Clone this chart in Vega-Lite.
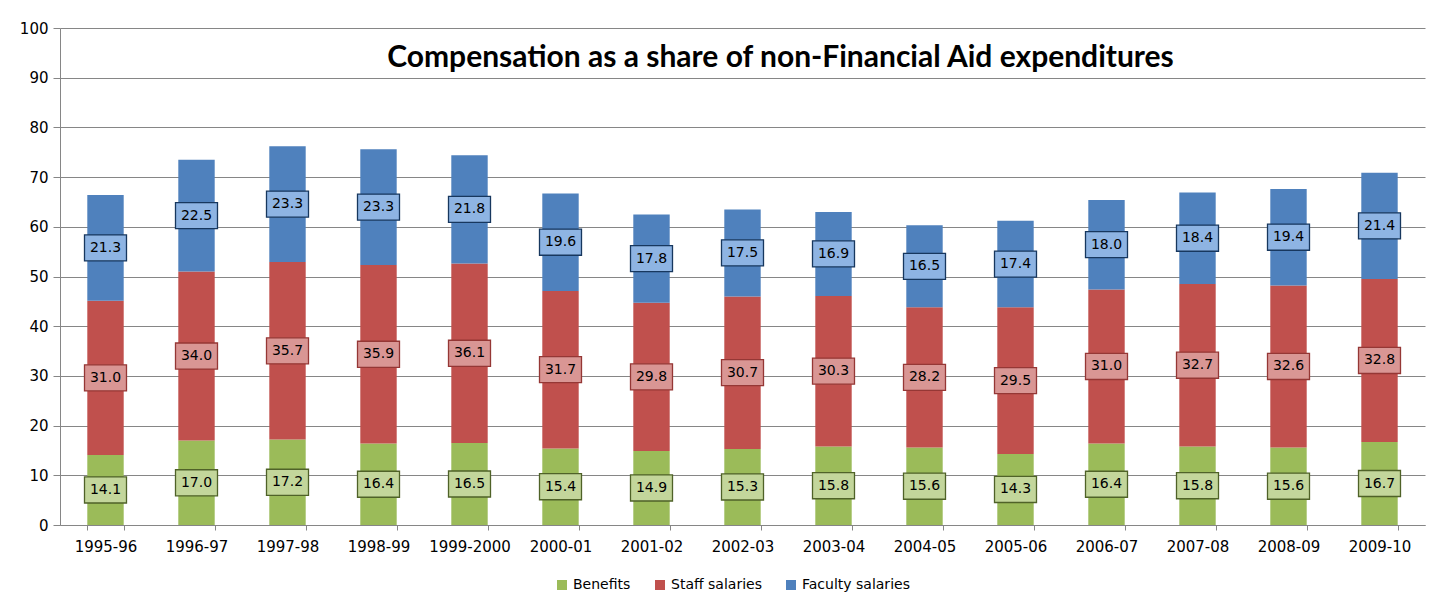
{
  "$schema": "https://vega.github.io/schema/vega-lite/v6.json",
  "width": 1365,
  "height": 497,
  "autosize": {"type": "none"},
  "padding": {"left": 60, "top": 28, "right": 27, "bottom": 82},
  "background": "white",
  "title": {
    "text": "Compensation as a share of non-Financial Aid expenditures",
    "font": "Lato",
    "fontSize": 30,
    "fontWeight": "bold",
    "color": "#000000",
    "anchor": "middle",
    "dx": 38,
    "offset": -52
  },
  "data": {
    "values": [
      {"year": "1995-96", "series": "Benefits", "k": 1, "value": 14.1},
      {"year": "1995-96", "series": "Staff salaries", "k": 2, "value": 31.0},
      {"year": "1995-96", "series": "Faculty salaries", "k": 3, "value": 21.3},
      {"year": "1996-97", "series": "Benefits", "k": 1, "value": 17.0},
      {"year": "1996-97", "series": "Staff salaries", "k": 2, "value": 34.0},
      {"year": "1996-97", "series": "Faculty salaries", "k": 3, "value": 22.5},
      {"year": "1997-98", "series": "Benefits", "k": 1, "value": 17.2},
      {"year": "1997-98", "series": "Staff salaries", "k": 2, "value": 35.7},
      {"year": "1997-98", "series": "Faculty salaries", "k": 3, "value": 23.3},
      {"year": "1998-99", "series": "Benefits", "k": 1, "value": 16.4},
      {"year": "1998-99", "series": "Staff salaries", "k": 2, "value": 35.9},
      {"year": "1998-99", "series": "Faculty salaries", "k": 3, "value": 23.3},
      {"year": "1999-2000", "series": "Benefits", "k": 1, "value": 16.5},
      {"year": "1999-2000", "series": "Staff salaries", "k": 2, "value": 36.1},
      {"year": "1999-2000", "series": "Faculty salaries", "k": 3, "value": 21.8},
      {"year": "2000-01", "series": "Benefits", "k": 1, "value": 15.4},
      {"year": "2000-01", "series": "Staff salaries", "k": 2, "value": 31.7},
      {"year": "2000-01", "series": "Faculty salaries", "k": 3, "value": 19.6},
      {"year": "2001-02", "series": "Benefits", "k": 1, "value": 14.9},
      {"year": "2001-02", "series": "Staff salaries", "k": 2, "value": 29.8},
      {"year": "2001-02", "series": "Faculty salaries", "k": 3, "value": 17.8},
      {"year": "2002-03", "series": "Benefits", "k": 1, "value": 15.3},
      {"year": "2002-03", "series": "Staff salaries", "k": 2, "value": 30.7},
      {"year": "2002-03", "series": "Faculty salaries", "k": 3, "value": 17.5},
      {"year": "2003-04", "series": "Benefits", "k": 1, "value": 15.8},
      {"year": "2003-04", "series": "Staff salaries", "k": 2, "value": 30.3},
      {"year": "2003-04", "series": "Faculty salaries", "k": 3, "value": 16.9},
      {"year": "2004-05", "series": "Benefits", "k": 1, "value": 15.6},
      {"year": "2004-05", "series": "Staff salaries", "k": 2, "value": 28.2},
      {"year": "2004-05", "series": "Faculty salaries", "k": 3, "value": 16.5},
      {"year": "2005-06", "series": "Benefits", "k": 1, "value": 14.3},
      {"year": "2005-06", "series": "Staff salaries", "k": 2, "value": 29.5},
      {"year": "2005-06", "series": "Faculty salaries", "k": 3, "value": 17.4},
      {"year": "2006-07", "series": "Benefits", "k": 1, "value": 16.4},
      {"year": "2006-07", "series": "Staff salaries", "k": 2, "value": 31.0},
      {"year": "2006-07", "series": "Faculty salaries", "k": 3, "value": 18.0},
      {"year": "2007-08", "series": "Benefits", "k": 1, "value": 15.8},
      {"year": "2007-08", "series": "Staff salaries", "k": 2, "value": 32.7},
      {"year": "2007-08", "series": "Faculty salaries", "k": 3, "value": 18.4},
      {"year": "2008-09", "series": "Benefits", "k": 1, "value": 15.6},
      {"year": "2008-09", "series": "Staff salaries", "k": 2, "value": 32.6},
      {"year": "2008-09", "series": "Faculty salaries", "k": 3, "value": 19.4},
      {"year": "2009-10", "series": "Benefits", "k": 1, "value": 16.7},
      {"year": "2009-10", "series": "Staff salaries", "k": 2, "value": 32.8},
      {"year": "2009-10", "series": "Faculty salaries", "k": 3, "value": 21.4}
    ]
  },
  "encoding": {
    "x": {
      "field": "year",
      "type": "nominal",
      "sort": null,
      "scale": {"paddingInner": 0.6, "paddingOuter": 0.3},
      "axis": {
        "title": null,
        "labelAngle": 0,
        "labelFont": "DejaVu Sans",
        "labelFontSize": 15,
        "labelColor": "#000000",
        "labelPadding": 9,
        "domainColor": "#868686",
        "tickColor": "#868686",
        "tickBand": "extent",
        "tickSize": 5,
        "grid": false
      }
    }
  },
  "layer": [
    {
      "mark": {"type": "bar"},
      "encoding": {
        "y": {
          "field": "value",
          "type": "quantitative",
          "stack": "zero",
          "scale": {"domain": [0, 100], "nice": false},
          "axis": {
            "title": null,
            "values": [0, 10, 20, 30, 40, 50, 60, 70, 80, 90, 100],
            "labelFont": "DejaVu Sans",
            "labelFontSize": 15,
            "labelColor": "#000000",
            "labelPadding": 5,
            "grid": true,
            "gridColor": "#868686",
            "gridWidth": 1,
            "domainColor": "#868686",
            "tickColor": "#868686",
            "tickSize": 7
          }
        },
        "color": {
          "field": "series",
          "type": "nominal",
          "scale": {
            "domain": ["Benefits", "Staff salaries", "Faculty salaries"],
            "range": ["#9bbb59", "#c0504d", "#4f81bd"]
          },
          "legend": {
            "title": null,
            "orient": "none",
            "legendX": 495,
            "legendY": 550,
            "direction": "horizontal",
            "symbolType": "square",
            "symbolSize": 100,
            "symbolStrokeWidth": 0,
            "symbolOffset": 0,
            "labelOffset": 4,
            "labelFont": "DejaVu Sans",
            "labelFontSize": 14,
            "labelColor": "#000000",
            "columnPadding": 22
          }
        },
        "order": {"field": "k", "type": "quantitative"}
      }
    },
    {
      "transform": [
        {"stack": "value", "groupby": ["year"], "sort": [{"field": "k"}], "as": ["y0", "y1"]},
        {"calculate": "(datum.y0 + datum.y1) / 2", "as": "mid"}
      ],
      "mark": {
        "type": "point",
        "shape": "M-1,-0.62L1,-0.62L1,0.62L-1,0.62Z",
        "size": 1764,
        "filled": true,
        "opacity": 1,
        "strokeWidth": 1.3
      },
      "encoding": {
        "y": {"field": "mid", "type": "quantitative"},
        "fill": {
          "field": "series",
          "type": "nominal",
          "scale": {
            "domain": ["Benefits", "Staff salaries", "Faculty salaries"],
            "range": ["#c3d69b", "#d99694", "#8eb4e3"]
          },
          "legend": null
        },
        "stroke": {
          "field": "series",
          "type": "nominal",
          "scale": {
            "domain": ["Benefits", "Staff salaries", "Faculty salaries"],
            "range": ["#4f6228", "#953735", "#17375e"]
          },
          "legend": null
        }
      }
    },
    {
      "transform": [
        {"stack": "value", "groupby": ["year"], "sort": [{"field": "k"}], "as": ["y0", "y1"]},
        {"calculate": "(datum.y0 + datum.y1) / 2", "as": "mid"}
      ],
      "mark": {
        "type": "text",
        "font": "DejaVu Sans",
        "fontSize": 14,
        "color": "#000000",
        "baseline": "middle",
        "align": "center"
      },
      "encoding": {
        "y": {"field": "mid", "type": "quantitative"},
        "text": {"field": "value", "type": "quantitative", "format": ".1f"}
      }
    }
  ],
  "config": {
    "view": {"stroke": null}
  }
}
